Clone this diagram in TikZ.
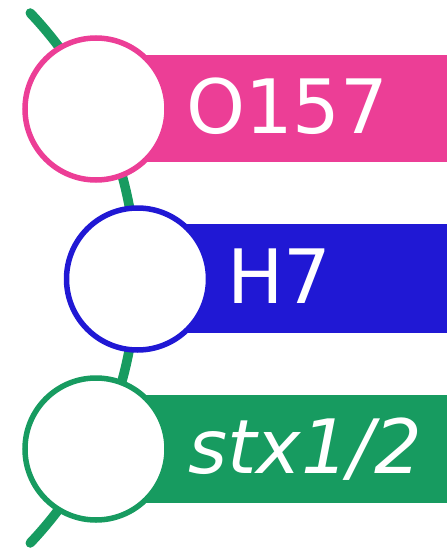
\documentclass[tikz,border=0pt]{standalone}
\usepackage{fontspec}
\setmainfont{DejaVu Sans}
\definecolor{tagpink}{HTML}{EC3E96}
\definecolor{tagblue}{HTML}{2018D4}
\definecolor{taggreen}{HTML}{179B60}
\begin{document}
\begin{tikzpicture}[x=1pt,y=1pt,
  ring/.style={draw=#1, fill=white, line width=5.5pt},
  tagtext/.style={anchor=base west, inner sep=0pt, text=white, font=\fontsize{75}{90}\selectfont}]
  \useasboundingbox (0,-551) rectangle (447,0);
  % ring centres
  \coordinate (o) at (96,-109);
  \coordinate (h) at (137.5,-279);
  \coordinate (s) at (96,-449);
  % curved backbone passing behind the rings
  \draw[taggreen, line width=9.5pt, line cap=round]
    (-249,-278) ++(43.5:385) arc[start angle=43.5, end angle=-43.5, radius=385];
  % coloured bars
  \fill[tagpink]  (120,-55)  rectangle (447,-162);
  \fill[tagblue]  (160,-224) rectangle (447,-333);
  \fill[taggreen] (120,-395) rectangle (447,-503);
  % rings
  \draw[ring=tagpink]  (o) circle[radius=71];
  \draw[ring=tagblue]  (h) circle[radius=71];
  \draw[ring=taggreen] (s) circle[radius=71];
  % labels
  \node[tagtext] (ot) at (186,-133) {O157};
  \node[tagtext] (ht) at (227,-303) {H7};
  \node[tagtext] (st) at (188,-473) {\itshape stx1/2};
\end{tikzpicture}
\end{document}
